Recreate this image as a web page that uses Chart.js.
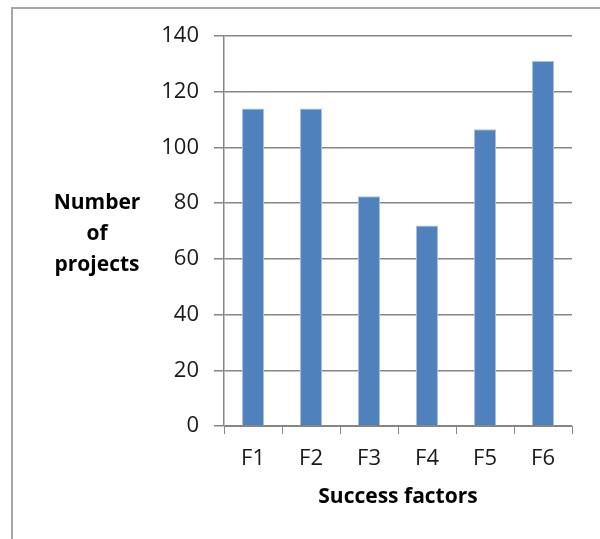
<!DOCTYPE html>
<html>
<head>
<meta charset="utf-8">
<script src="https://cdn.jsdelivr.net/npm/chart.js@4"></script>
<style>
  html, body { margin: 0; padding: 0; background: #fff; }
  #wrap { width: 600px; height: 539px; }
</style>
</head>
<body>
<div id="wrap"><canvas id="successChart" width="600" height="539"></canvas></div>
<script>
var factors = ["F1", "F2", "F3", "F4", "F5", "F6"];
var projectCounts = [114, 114, 82.5, 72, 106.5, 131];
var yTitleLines = ["Number", "of", "projects"];
var xTitle = "Success factors";

var axisGray = "#868686";

// outer frame (only top and left edges are visible) + horizontal y title
var framePlugin = {
  id: "frameAndTitle",
  beforeDraw: function(chart) {
    var ctx = chart.ctx;
    ctx.save();
    ctx.strokeStyle = "#a6a6a6";
    ctx.lineWidth = 2;
    ctx.beginPath();
    ctx.moveTo(12, 539);
    ctx.lineTo(12, 8);
    ctx.lineTo(600, 8);
    ctx.stroke();
    ctx.restore();
  },
  afterDraw: function(chart) {
    var ctx = chart.ctx;
    var area = chart.chartArea;
    ctx.save();
    ctx.fillStyle = "#000";
    ctx.font = "bold 21px 'Open Sans'";
    ctx.textAlign = "center";
    ctx.textBaseline = "middle";
    var midY = (area.top + area.bottom) / 2;
    for (var i = 0; i < yTitleLines.length; i++) {
      ctx.fillText(yTitleLines[i], 97, midY + 3 + (i - 1) * 31);
    }
    ctx.restore();
  }
};

var ctx = document.getElementById("successChart").getContext("2d");
var chart = new Chart(ctx, {
  type: "bar",
  data: {
    labels: factors,
    datasets: [
      {
        data: projectCounts,
        backgroundColor: "#4f81bd",
        borderColor: "#a8c1e0",
        borderWidth: 1,
        barPercentage: 0.38,
        categoryPercentage: 1
      }
    ]
  },
  options: {
    responsive: false,
    animation: false,
    layout: { padding: { top: 36, right: 28, left: 0, bottom: 0 } },
    plugins: {
      legend: { display: false },
      tooltip: { enabled: false }
    },
    scales: {
      x: {
        offset: true,
        grid: {
          offset: true,
          drawOnChartArea: false,
          drawTicks: true,
          tickLength: 8,
          color: axisGray
        },
        border: { display: true, color: axisGray, width: 1 },
        ticks: {
          color: "#1a1a1a",
          font: { family: "'Open Sans'", size: 22 },
          padding: 12
        },
        title: {
          display: true,
          text: xTitle,
          color: "#000",
          font: { family: "'Open Sans'", size: 21, weight: "bold" },
          padding: { top: 0, bottom: 29 }
        },
        afterFit: function(scale) { scale.height = 113; }
      },
      y: {
        min: 0,
        max: 140,
        ticks: {
          stepSize: 20,
          color: "#1a1a1a",
          font: { family: "'Open Sans'", size: 22 },
          padding: 15
        },
        grid: {
          color: axisGray,
          lineWidth: 1.5,
          drawTicks: true,
          tickLength: 10
        },
        border: { display: true, color: axisGray, width: 1.5 },
        afterFit: function(scale) { scale.width = 224; }
      }
    }
  },
  plugins: [framePlugin]
});
</script>
</body>
</html>
